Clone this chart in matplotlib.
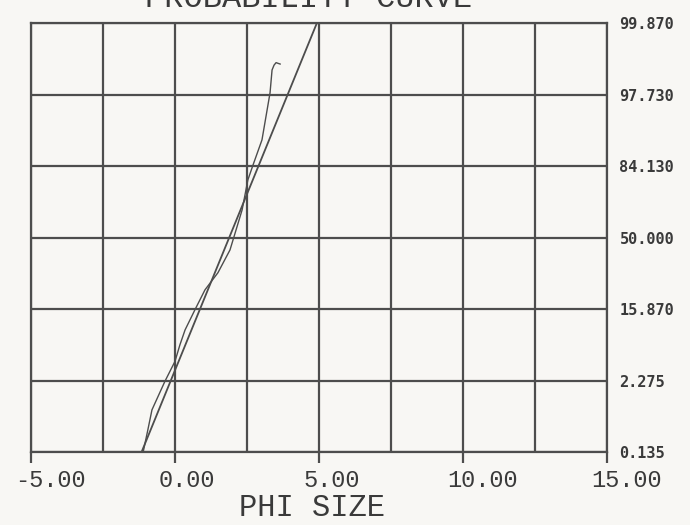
import matplotlib
matplotlib.use("Agg")
import matplotlib.pyplot as plt
import matplotlib.transforms as mtransforms
from matplotlib.ticker import MultipleLocator
from statistics import NormalDist

# ---- data ----
prob_levels = [0.135, 2.275, 15.870, 50.000, 84.130, 97.730, 99.870]
prob_labels = ["0.135", "2.275", "15.870", "50.000", "84.130", "97.730", "99.870"]
x_ticks = [-5.0, 0.0, 5.0, 10.0, 15.0]

curve_phi = [-1.11, -0.94, -0.80, -0.35, 0.00, 0.17, 0.35, 0.69, 1.04, 1.49, 1.91,
             2.33, 2.53, 2.71, 3.02, 3.30, 3.37, 3.44, 3.51, 3.65]
curve_pct = [0.131, 0.363, 0.798, 2.22, 4.18, 6.68, 9.85, 15.62, 23.27, 31.21, 43.25,
             65.17, 79.10, 84.61, 91.47, 97.88, 99.06, 99.22, 99.29, 99.25]

fit_phi = [-1.16, 4.92]
fit_pct = [0.135, 99.865]

nd = NormalDist()
def z(p):
    return nd.inv_cdf(p / 100.0)

paper = "#f8f7f4"
ink = "#4d4d4d"
txt = "#3a3a3a"

fig = plt.figure(figsize=(6.9, 5.25), dpi=100, facecolor=paper)
ax = fig.add_axes([31/690, 1 - 452/525, 576/690, (452 - 22.7)/525])
ax.set_facecolor(paper)

ax.set_xlim(-5, 15)
ax.set_ylim(z(prob_levels[0]), z(prob_levels[-1]))

ax.plot(fit_phi, [z(p) for p in fit_pct], color=ink, lw=1.3)
ax.plot(curve_phi, [z(p) for p in curve_pct], color=ink, lw=1.0)

# grid
ax.xaxis.set_minor_locator(MultipleLocator(2.5))
ax.set_xticks(x_ticks)
ax.set_xticklabels([f"{v:.2f}" for v in x_ticks])
ax.set_yticks([z(p) for p in prob_levels])
ax.set_yticklabels(prob_labels)
ax.grid(True, which="both", color=ink, lw=1.6)
ax.set_axisbelow(True)
for s in ax.spines.values():
    s.set_color(ink)
    s.set_linewidth(1.6)

ax.tick_params(axis="x", which="major", direction="out", length=8, width=1.6,
               color=ink, pad=4, labelsize=17, labelcolor=txt)
ax.tick_params(axis="x", which="minor", length=0)
for lbl in ax.get_xticklabels():
    lbl.set_fontfamily("Liberation Mono")
    lbl.set_horizontalalignment("left")
    lbl.set_transform(lbl.get_transform() +
                      mtransforms.ScaledTranslation(-16/100, 0, fig.dpi_scale_trans))

ax.yaxis.tick_right()
ax.tick_params(axis="y", which="both", length=0, pad=9, labelsize=11,
               labelcolor=txt, left=False, right=False)
for lbl in ax.get_yticklabels():
    lbl.set_fontfamily("DejaVu Sans Mono")
    lbl.set_fontweight("bold")
    lbl.set_horizontalalignment("left")

ax.set_xlabel("PHI SIZE", fontfamily="Liberation Mono", fontsize=22, color=txt)
ax.xaxis.label.set_verticalalignment("center")
ax.xaxis.set_label_coords((312 - 31) / 576, -(508 - 452) / (452 - 22.7))

fig.text(308.5/690, 1 - 7/525, "PROBABILITY CURVE", fontfamily="Liberation Mono",
         fontsize=23, color=txt, ha="center", va="baseline")

fig.savefig("out.png", dpi=100, facecolor=paper)
